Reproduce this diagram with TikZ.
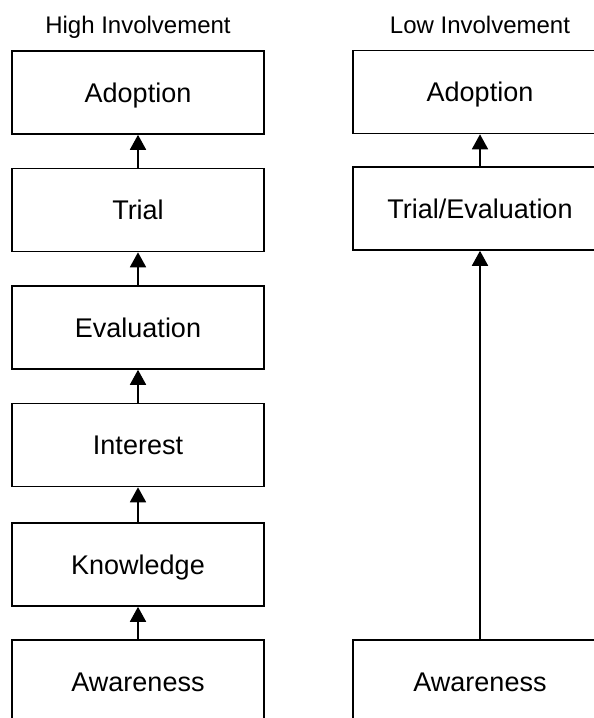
\documentclass[tikz,border=0pt]{standalone}
\usepackage{fontspec}
\setmainfont{Liberation Sans}
\usetikzlibrary{arrows.meta}
\begin{document}
\begin{tikzpicture}[x=1pt,y=1pt,
  stage/.style={draw=black, line width=1.6pt, fill=white, inner sep=0pt,
    minimum height=83pt, font=\fontsize{27}{30}\selectfont,
    text height=19.3pt, text depth=0pt},
  leftstage/.style={stage, minimum width=252pt},
  rightstage/.style={stage, minimum width=254pt},
  heading/.style={inner sep=0pt, font=\fontsize{24}{26}\selectfont,
    text height=17pt, text depth=0pt},
  flow/.style={line width=1.8pt, -{Triangle[width=16pt,length=15pt]}}]
\clip (0,0) rectangle (594,-718);
\fill[white] (0,0) rectangle (594,-718);

% column headings
\node[heading] (hHead) at (138,-25) {High Involvement};
\node[heading] (lHead) at (480,-25) {Low Involvement};

% high involvement stages
\node[leftstage] (hAdopt) at (138,-92.5)  {Adoption};
\node[leftstage] (hTrial) at (138,-210)   {Trial};
\node[leftstage] (hEval)  at (138,-327.5) {Evaluation};
\node[leftstage] (hInt)   at (138,-445)   {Interest};
\node[leftstage] (hKnow)  at (138,-564.5) {Knowledge};
\node[leftstage] (hAware) at (138,-681.5) {Awareness};

% low involvement stages
\node[rightstage] (lAdopt) at (480,-92)    {Adoption};
\node[rightstage] (lTrial) at (480,-208.5) {Trial/Evaluation};
\node[rightstage] (lAware) at (480,-681.5) {Awareness};

% connectors
\draw[flow] (hAware.north) -- (hKnow.south);
\draw[flow] (hKnow.north) -- (hInt.south);
\draw[flow] (hInt.north) -- (hEval.south);
\draw[flow] (hEval.north) -- (hTrial.south);
\draw[flow] (hTrial.north) -- (hAdopt.south);
\draw[flow] (lAware.north) -- (lTrial.south);
\draw[flow] (lTrial.north) -- (lAdopt.south);
\end{tikzpicture}
\end{document}
